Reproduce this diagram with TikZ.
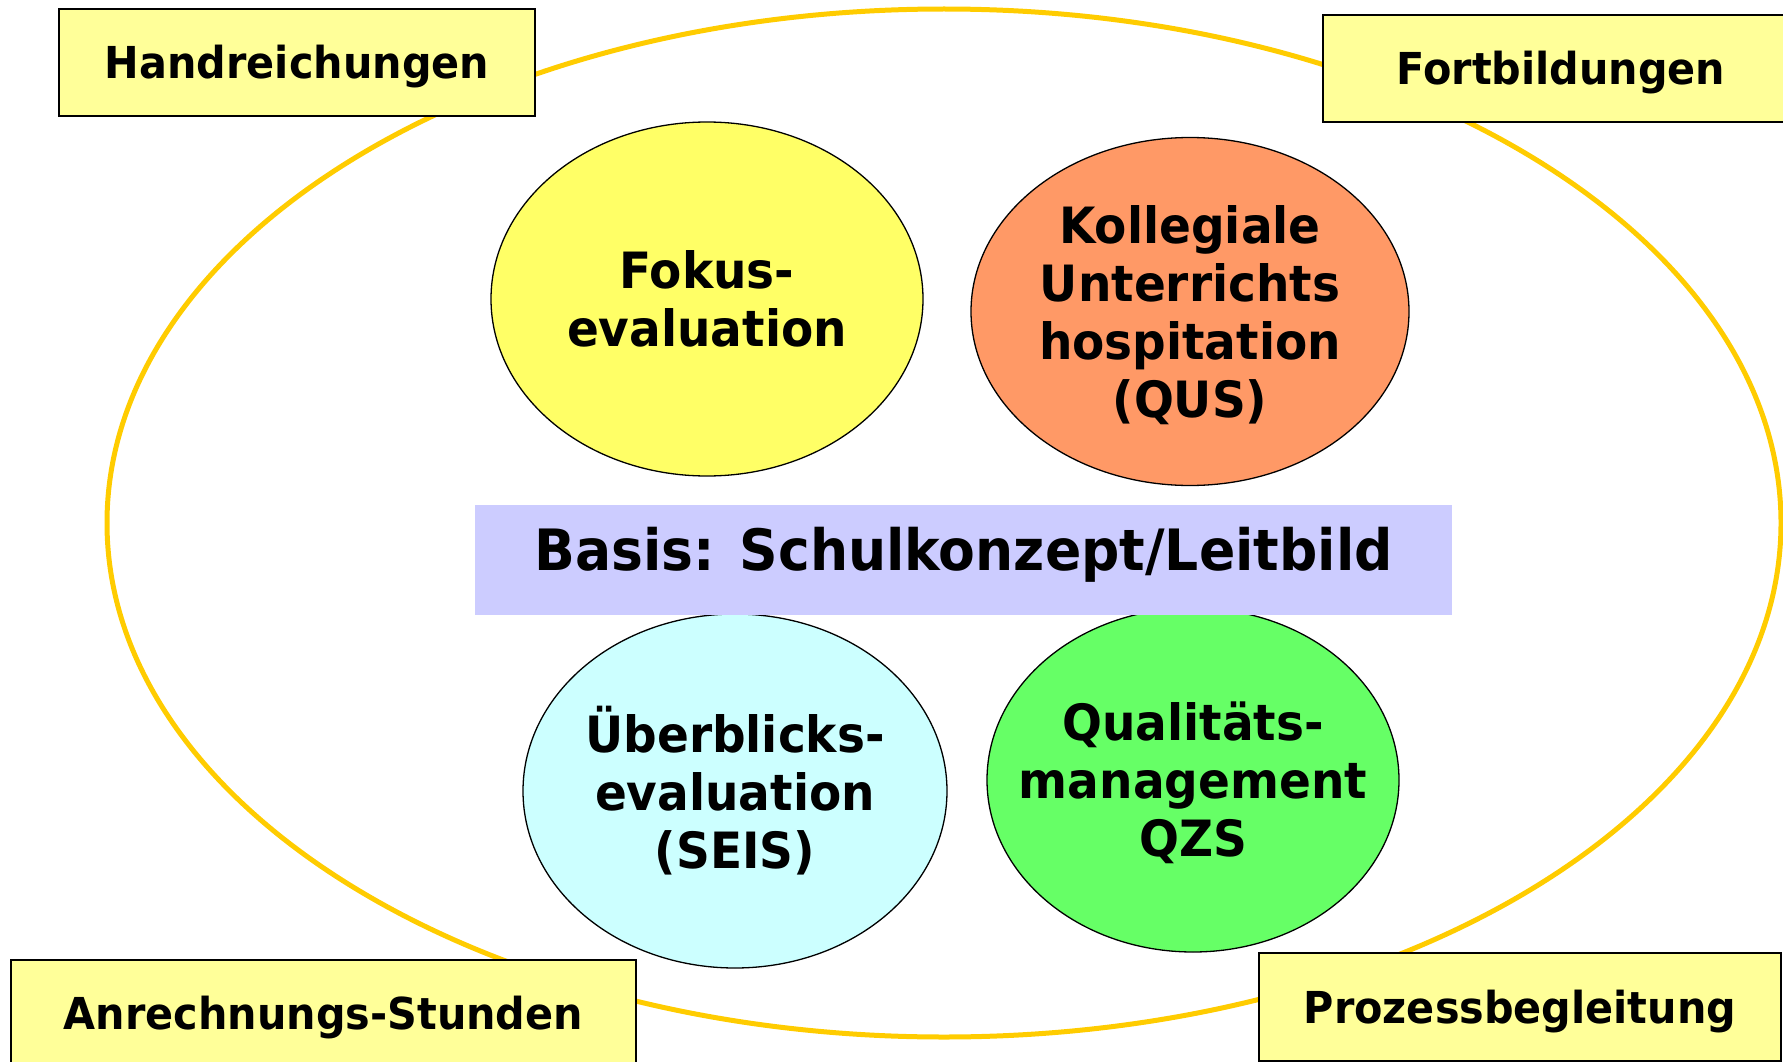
\documentclass[tikz,border=0pt]{standalone}
\usepackage{fontspec}
\setmainfont[FakeStretch=0.94]{DejaVu Sans}
\usepackage{tikz}

\definecolor{ringgold}{RGB}{255,204,0}
\definecolor{boxyellow}{RGB}{255,255,153}
\definecolor{fokusyellow}{RGB}{255,255,102}
\definecolor{qusorange}{RGB}{255,153,102}
\definecolor{seiscyan}{RGB}{204,255,255}
\definecolor{qzsgreen}{RGB}{102,255,102}
\definecolor{basisblue}{RGB}{204,204,255}

\begin{document}
\begin{tikzpicture}[x=1pt,y=-1pt,
    toolbox/.style={draw=black,line width=1.5pt,fill=boxyellow,inner sep=0pt,
      text height=32pt,text depth=0pt,font=\bfseries\fontsize{44}{53}\selectfont},
    pillar/.style={draw=black,line width=1.3pt},
    pillartext/.style={inner sep=0pt,align=center,
      font=\bfseries\fontsize{50}{58}\selectfont}]
        \useasboundingbox (0,0) rectangle (1783,1062);

        % outer ring
        \draw[ringgold,line width=5pt] (944,523) ellipse [x radius=837,y radius=514];

        % support boxes
        \node[toolbox,minimum width=476,minimum height=107] (hand) at (297,62.5) {Handreichungen};
        \node[toolbox,minimum width=476,minimum height=107] (fort) at (1561,68.5) {Fortbildungen};
        \node[toolbox,minimum width=625,minimum height=106] (anr) at (323.5,1013) {Anrechnungs-Stunden};
        \node[toolbox,minimum width=522,minimum height=108] (proz) at (1520,1007) {Prozessbegleitung};

        % four instruments
        \draw[pillar,fill=fokusyellow] (707,299) ellipse [x radius=216,y radius=177];
        \node[pillartext] (fokus) at (707,299) {Fokus-\\evaluation};
        \draw[pillar,fill=qusorange] (1190,311.5) ellipse [x radius=219,y radius=174];
        \node[pillartext] (qus) at (1190,315.5) {Kollegiale\\Unterrichts\\hospitation\\(QUS)};
        \draw[pillar,fill=seiscyan] (735,791) ellipse [x radius=212,y radius=177];
        \node[pillartext] (seis) at (735,791) {Überblicks-\\evaluation\\(SEIS)};
        \draw[pillar,fill=qzsgreen] (1193,780) ellipse [x radius=206,y radius=172];
        \node[pillartext] (qzs) at (1193,783) {Qualitäts-\\management\\QZS};

        % basis bar
        \node[fill=basisblue,minimum width=977,minimum height=110,inner sep=0pt] (basis) at (963.5,560) {};
        \node[font=\bfseries\fontsize{57}{68}\selectfont,inner sep=0pt,text height=42pt,text depth=0pt] (basistext) at (963.5,549) {Basis: Schulkonzept/Leitbild};
      \end{tikzpicture}
\end{document}
